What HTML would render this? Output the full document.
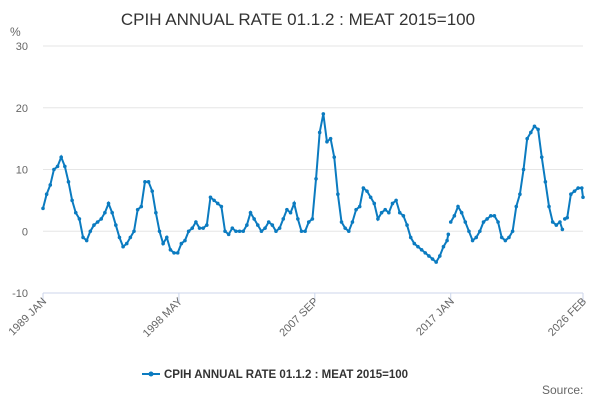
<!DOCTYPE html>
<html><head><meta charset="utf-8"><style>
body{margin:0;background:#fff;}
svg{display:block;font-family:"Liberation Sans",sans-serif;}
</style></head><body>
<svg width="600" height="400">
<text x="298" y="25" text-anchor="middle" font-size="17" fill="#333">CPIH ANNUAL RATE 01.1.2 : MEAT 2015=100</text>
<text x="10" y="36" font-size="12" fill="#666">%</text>
<g id="grid"></g><g id="xaxis"></g><g id="series"></g>
<g>
<line x1="142" y1="374" x2="160" y2="374" stroke="#0b7bc0" stroke-width="2"/>
<circle cx="151" cy="374" r="2.5" fill="#0b7bc0"/>
<text x="164" y="378" font-size="11.5" font-weight="bold" fill="#333">CPIH ANNUAL RATE 01.1.2 : MEAT 2015=100</text>
</g>
<text x="542" y="394" font-size="12" fill="#666">Source:</text>
</svg>
<script>
const yTicks=[30,20,10,0,-10];
const xTickLabels=["1989 JAN","1998 MAY","2007 SEP","2017 JAN","2026 FEB"];
const xTickMonths=[0,112,224,336,445];
// quarterly values 1989 Q1 .. 2016 Q3 (month offsets 0,3,...,330)
const quarterlyValues=[3.7,6,7.5,10, 10.5,12,10.5,8, 5,3,2,-1, -1.5,0,1,1.5, 2,3,4.5,3, 1,-1,-2.5,-2,
-1,0,3.5,4, 8,8,6.5,3, 0,-2,-1,-3, -3.5,-3.5,-2,-1.5, 0,0.5,1.5,0.5, 0.5,1,5.5,5,
4.5,4,0,-0.5, 0.5,0,0,0, 1,3,2,1, 0,0.5,1.5,1, 0,0.5,2,3.5, 3,4.5,2,0,
0,1.5,2,8.5, 16,19,14.5,15, 12,6,1.5,0.5, 0,1.5,3.5,4, 7,6.5,5.5,4.5, 2,3,3.5,3,
4.5,5,3,2.5, 1,-1,-2,-2.5, -3,-3.5,-4,-4.5, -5,-4,-2.5];
const tailMonths=[333,334,335,336,339,342,345,348,351,354,357,360,363,366,369,372,375,378,381,384,387,390,393,396,399,402,405,408,411,414,417,420,423,426,428,429,430,432,435,438,441,444,445];
const tailValues=[-1.5,-0.5,null,1.5,2.5,4,3, 1.5,0,-1.5,-1, 0,1.5,2,2.5, 2.5,1.5,-1,-1.5, -1,0,4,6, 10,15,16,17, 16.5,12,8,4, 1.5,1,1.5,0.3,null,2, 2.2,6,6.5,7,7,5.5];
const NS="http://www.w3.org/2000/svg";
const X0=43,X1=583,Y30=46,Ym10=293;
const xs=m=>X0+m*(X1-X0)/445;
const ys=v=>Y30+(30-v)*(Ym10-Y30)/40;
const grid=document.getElementById('grid');
yTicks.forEach(t=>{
 const l=document.createElementNS(NS,'line');
 
 
 l.setAttribute('x1',X0);l.setAttribute('x2',X1);l.setAttribute('y1',ys(t));l.setAttribute('y2',ys(t));
 l.setAttribute('stroke',t===-10?'#ccd6eb':'#e6e6e6');l.setAttribute('stroke-width',1);
 grid.appendChild(l);
 const tx=document.createElementNS(NS,'text');
 
 
 tx.setAttribute('x',28);tx.setAttribute('y',ys(t)+4);tx.setAttribute('text-anchor','end');
 tx.setAttribute('font-size','11');tx.setAttribute('fill','#666');tx.textContent=t;
 grid.appendChild(tx);
});
const xa=document.getElementById('xaxis');
xTickMonths.forEach((m,i)=>{
 const l=document.createElementNS(NS,'line');
 
 
 l.setAttribute('x1',xs(m));l.setAttribute('x2',xs(m));l.setAttribute('y1',293);l.setAttribute('y2',303);
 l.setAttribute('stroke','#ccd6eb');xa.appendChild(l);
 const tx=document.createElementNS(NS,'text');
 
 
 const x=xs(m)+4,y=302;
 tx.setAttribute('x',x);tx.setAttribute('y',y);tx.setAttribute('text-anchor','end');
 tx.setAttribute('transform','rotate(-45 '+x+' '+y+')');
 tx.setAttribute('font-size','11');tx.setAttribute('fill','#666');tx.textContent=xTickLabels[i];
 xa.appendChild(tx);
});
const pts=quarterlyValues.map((v,i)=>[i*3,v]);
tailMonths.forEach((m,i)=>pts.push([m,tailValues[i]]));
const ser=document.getElementById('series');
let segs=[],cur=[];
pts.forEach(p=>{if(p[1]===null){if(cur.length)segs.push(cur);cur=[];}else cur.push(p);});
if(cur.length)segs.push(cur);
segs.forEach(s=>{
 const pl=document.createElementNS(NS,'polyline');
 
 
 pl.setAttribute('points',s.map(p=>xs(p[0])+','+ys(p[1])).join(' '));
 pl.setAttribute('fill','none');pl.setAttribute('stroke','#0b7bc0');pl.setAttribute('stroke-width','2');
 ser.appendChild(pl);
});
pts.forEach(p=>{if(p[1]===null)return;
 const c=document.createElementNS(NS,'circle');
 
 
 c.setAttribute('cx',xs(p[0]));c.setAttribute('cy',ys(p[1]));c.setAttribute('r','1.8');c.setAttribute('fill','#0b7bc0');
 ser.appendChild(c);
});
</script>
</body></html>
